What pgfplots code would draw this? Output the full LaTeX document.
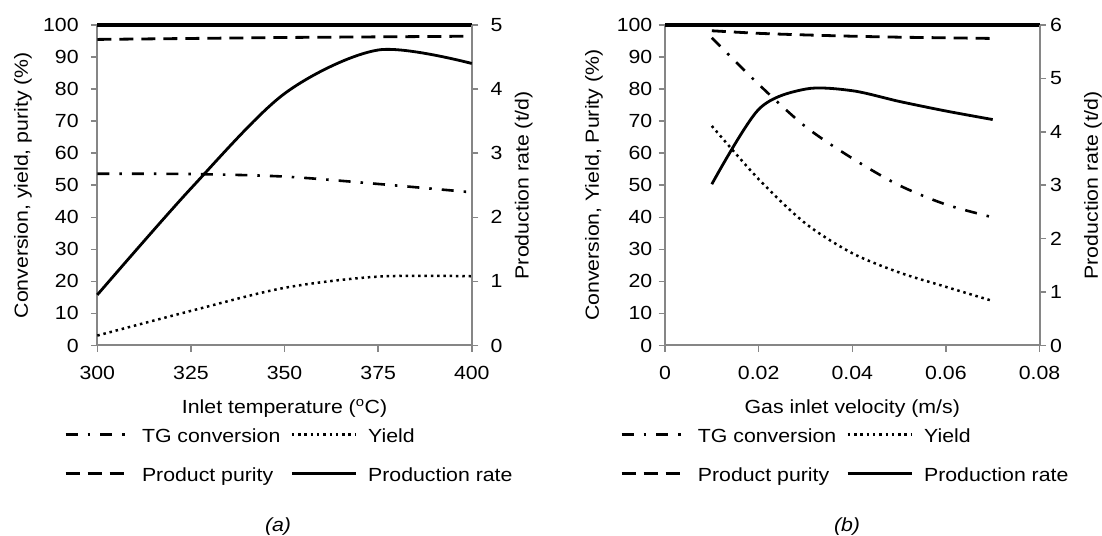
\documentclass[border=0pt]{standalone}
\usepackage{fontspec}
\setmainfont{Liberation Sans}[FakeStretch=1.12]
\usepackage{pgfplots}
\pgfplotsset{compat=1.18}

\definecolor{axgray}{RGB}{134,134,134}

% line styles of the four series
\tikzset{
  tg/.style={black, line width=2.6bp, dash pattern=on 12bp off 10bp on 2.5bp off 10bp},
  yld/.style={black, line width=2.5bp, dash pattern=on 2.5bp off 3.8bp},
  pur/.style={black, line width=2.8bp, dash pattern=on 14bp off 8bp},
  prod/.style={black, line width=2.8bp},
}

\pgfplotsset{
  /pgf/number format/assume math mode=true,
  base/.style={
    scale only axis, width=374.5bp, height=320.5bp,
    anchor=south west, ymin=0,
    axis line style={axgray, line width=2bp},
    tick style={axgray, line width=1.5bp},
    major tick length=6.5bp,
    tick align=outside,
    clip=false,
  },
  lgd/.style={
    legend columns=2,
    legend cell align=left,
    legend image code/.code={\draw[##1] (0bp,3bp) -- (64bp,3bp);},
    legend style={draw=none, fill=none, inner sep=0pt, anchor=north west,
      row sep=23bp,
      nodes={inner sep=0pt, text height=13bp, text depth=3bp},
      /tikz/every odd column/.append style={column sep=11bp},
      /tikz/column 2/.append style={column sep=10bp}},
  },
}

\begin{document}
\fontsize{19bp}{22bp}\selectfont
\begin{tikzpicture}
\path[use as bounding box] (0,0) rectangle (1102bp,536bp);

% ---------- (a) inlet temperature ----------
\begin{axis}[base, at={(97.3bp,190.5bp)},
  xmin=300, xmax=400, ymax=100,
  xtick={300,325,350,375,400}, ytick={0,10,...,100},
  xtick pos=left, ytick pos=left,
  xticklabel style={inner sep=0pt, yshift=-14.5bp},
  yticklabel style={inner sep=0pt, xshift=-12bp},
  xlabel={Inlet temperature (\textsuperscript{o}C)},
  xlabel style={at={(axis description cs:0.5,-0.2137)}, anchor=base},
  ylabel={Conversion, yield, purity (\%)},
  ylabel style={at={(axis description cs:-0.1983,0.5)}, anchor=center},
]
\addplot[tg, smooth] coordinates {(300,53.6) (325,53.5) (350,52.7) (375,50.4) (400,47.8)};
\addplot[yld, smooth] coordinates {(300,3.1) (325,10.8) (350,18.0) (375,21.5) (400,21.6)};
\addplot[pur, smooth] coordinates {(300,95.5) (325,95.8) (350,96.1) (375,96.3) (400,96.5)};
\draw[black, line width=3.3bp] (rel axis cs:0,1) -- (rel axis cs:1,1);
\end{axis}
\begin{axis}[base, at={(97.3bp,190.5bp)},
  xmin=300, xmax=400, ymax=5, ytick={0,...,5},
  axis x line=none, axis y line*=right,
  yticklabel style={inner sep=0pt, xshift=12bp},
  ylabel={Production rate (t/d)},
  ylabel style={at={(axis description cs:1.1388,0.5)}, anchor=center},
  lgd, legend style={at={(-0.0889,-0.2617)}},
]
\addlegendimage{tg}\addlegendentry{TG conversion}
\addlegendimage{yld}\addlegendentry{Yield}
\addlegendimage{pur}\addlegendentry{Product purity}
\addplot[prod, smooth] coordinates {(300,0.79) (325,2.45) (350,3.93) (375,4.61) (400,4.40)};
\addlegendentry{Production rate}
\end{axis}

% ---------- (b) gas inlet velocity ----------
\begin{axis}[base, at={(665bp,190.5bp)},
  xmin=0, xmax=0.08, ymax=100,
  xtick={0,0.02,0.04,0.06,0.08}, xticklabels={0,0.02,0.04,0.06,0.08},
  scaled x ticks=false, ytick={0,10,...,100},
  xtick pos=left, ytick pos=left,
  xticklabel style={inner sep=0pt, yshift=-14.5bp},
  yticklabel style={inner sep=0pt, xshift=-6bp},
  xlabel={Gas inlet velocity (m/s)},
  xlabel style={at={(axis description cs:0.5,-0.2137)}, anchor=base},
  ylabel={Conversion, Yield, Purity (\%)},
  ylabel style={at={(axis description cs:-0.19,0.5)}, anchor=center},
]
\addplot[tg, smooth] coordinates {(0.01,96.0) (0.02,81.5) (0.03,68.3) (0.04,58.4) (0.05,50.0) (0.06,44.0) (0.07,40.0)};
\addplot[yld, smooth] coordinates {(0.01,68.5) (0.02,51.9) (0.03,38.1) (0.04,28.8) (0.05,22.8) (0.06,18.3) (0.07,13.9)};
\addplot[pur, smooth] coordinates {(0.01,98.2) (0.02,97.4) (0.03,96.9) (0.04,96.5) (0.05,96.2) (0.06,96.0) (0.07,95.8)};
\draw[black, line width=3.3bp] (rel axis cs:0,1) -- (rel axis cs:1,1);
\end{axis}
\begin{axis}[base, at={(665bp,190.5bp)},
  xmin=0, xmax=0.08, ymax=6, ytick={0,...,6},
  axis x line=none, axis y line*=right,
  yticklabel style={inner sep=0pt, xshift=4bp},
  ylabel={Production rate (t/d)},
  ylabel style={at={(axis description cs:1.143,0.5)}, anchor=center},
  lgd, legend style={at={(-0.1203,-0.2617)}},
]
\addlegendimage{tg}\addlegendentry{TG conversion}
\addlegendimage{yld}\addlegendentry{Yield}
\addlegendimage{pur}\addlegendentry{Product purity}
\addplot[prod, smooth] coordinates {(0.01,3.02) (0.02,4.42) (0.03,4.80) (0.04,4.77) (0.05,4.57) (0.06,4.39) (0.07,4.23)};
\addlegendentry{Production rate}
\end{axis}

\node[anchor=base, font=\itshape] at (278bp,5bp) {(a)};
\node[anchor=base, font=\itshape] at (847bp,5bp) {(b)};
\end{tikzpicture}
\end{document}
